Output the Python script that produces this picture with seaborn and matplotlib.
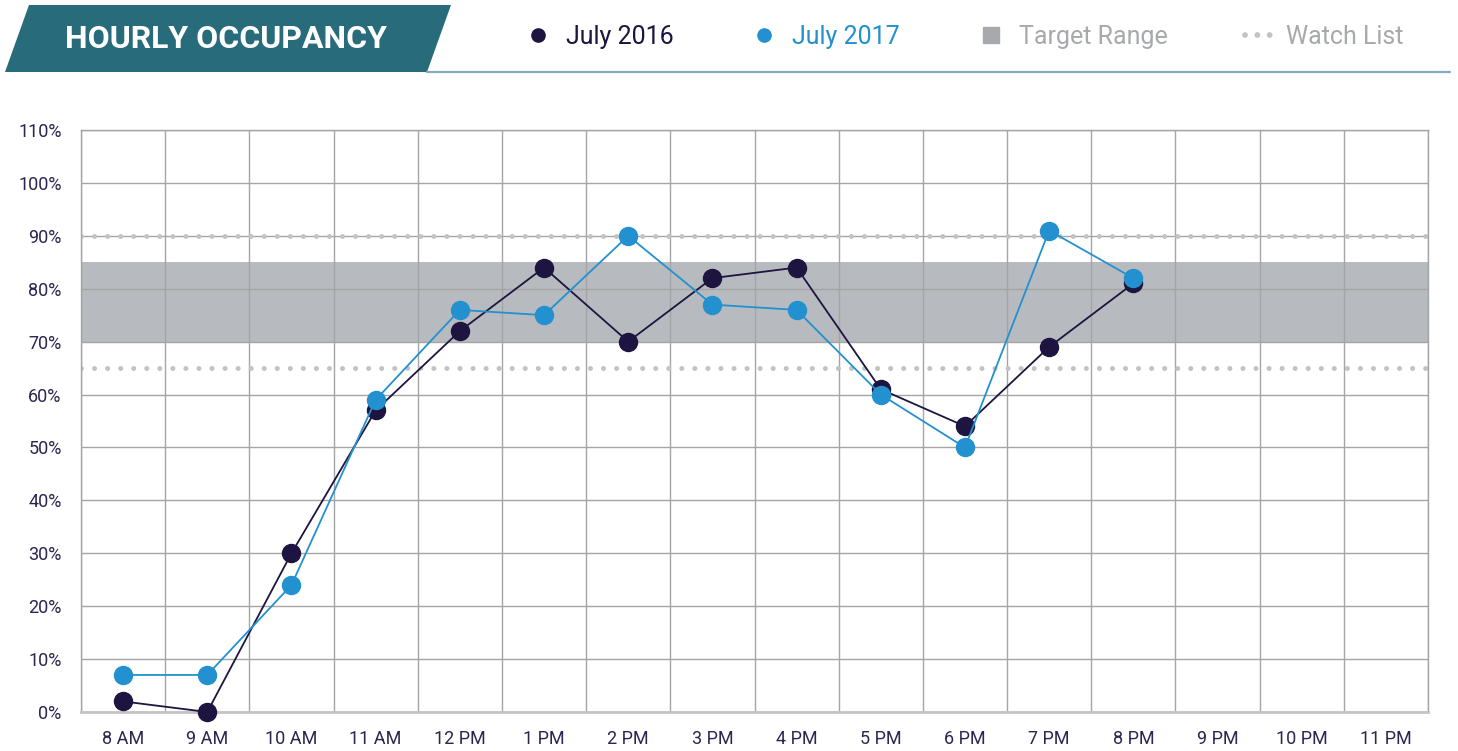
import numpy as np
import pandas as pd
import matplotlib
matplotlib.use("Agg")
import matplotlib.pyplot as plt
from matplotlib.lines import Line2D
from matplotlib.patches import Polygon
import seaborn as sns

# --- data ---
hours = ["8 AM", "9 AM", "10 AM", "11 AM", "12 PM", "1 PM", "2 PM", "3 PM",
         "4 PM", "5 PM", "6 PM", "7 PM", "8 PM", "9 PM", "10 PM", "11 PM"]
occ_2016 = [2, 0, 30, 57, 72, 84, 70, 82, 84, 61, 54, 69, 81, np.nan, np.nan, np.nan]
occ_2017 = [7, 7, 24, 59, 76, 75, 90, 77, 76, 60, 50, 91, 82, np.nan, np.nan, np.nan]
series = ["July 2016", "July 2017"]
target_range = (70, 85)
watch_levels = [65, 90]
y_ticks = list(range(0, 111, 10))

NAVY = "#1d1440"
BLUE = "#2391cf"
TEAL = "#286b7a"
BAND = "#b7babe"
DOTS = "#c2c3c7"
GRID = "#a5a5a5"
LEGEND_GREY = "#a7a9ac"

df = pd.DataFrame({
    "hour": hours * 2,
    "occupancy": occ_2016 + occ_2017,
    "series": [series[0]] * len(hours) + [series[1]] * len(hours),
})

sns.set_style("white")
plt.rcParams["font.family"] = ["Roboto", "DejaVu Sans"]

fig = plt.figure(figsize=(14.58, 7.51), dpi=100)
ax = fig.add_axes([81 / 1458, 39 / 751, 1347 / 1458, 582 / 751])

# target band + watch list lines
ax.axhspan(*target_range, color=BAND, zorder=0.1, lw=0)
for lvl in watch_levels:
    ax.axhline(lvl, color=DOTS, lw=3.6, ls=(0, (0.01, 2.6)),
               dash_capstyle="round", zorder=1)

sns.pointplot(data=df, x="hour", y="occupancy", hue="series", order=hours,
              hue_order=series, palette=[NAVY, BLUE], errorbar=None,
              markersize=13, linewidth=1.3, ax=ax, legend=False)
for ln in ax.lines[len(watch_levels):]:
    ln.set_clip_on(False)
    ln.set_zorder(3)

ax.set_xlim(-0.5, len(hours) - 0.5)
ax.set_ylim(0, 110)
ax.set_yticks(y_ticks)
ax.set_yticklabels([f"{t}%" for t in y_ticks])
ax.set_xticks(np.arange(-0.5, len(hours), 1), minor=True)
ax.set_axisbelow(True)
ax.grid(which="minor", axis="x", color=GRID, lw=1)
ax.grid(which="major", axis="y", color=GRID, lw=1)
ax.grid(which="major", axis="x", visible=False)
ax.tick_params(which="both", length=0)
ax.tick_params(axis="y", pad=14, labelsize=13, labelcolor="#2b2550")
ax.tick_params(axis="x", pad=13, labelsize=13, labelcolor="#2b2550")
ax.set_xlabel("")
ax.set_ylabel("")
for side in ax.spines.values():
    side.set_color(GRID)
    side.set_linewidth(1)
ax.spines["bottom"].set_color("#c4c4c4")
ax.spines["bottom"].set_linewidth(2)

# header banner
W, H = 1458, 751
banner = Polygon([(5 / W, 1 - 72 / H), (29 / W, 1 - 5 / H),
                  (451 / W, 1 - 5 / H), (427 / W, 1 - 72 / H)],
                 closed=True, transform=fig.transFigure, color=TEAL, lw=0)
fig.patches.append(banner)
fig.add_artist(Line2D([427 / W, 1450 / W], [1 - 72 / H, 1 - 72 / H],
                      transform=fig.transFigure, color="#7fadbb", lw=1.6))
fig.text(226 / W, 1 - 39 / H, "HOURLY OCCUPANCY", color="white",
         fontsize=23, fontweight="bold", ha="center", va="center")

# legend in the header
handles = [
    Line2D([], [], marker="o", ls="", color=NAVY, markersize=9.5),
    Line2D([], [], marker="o", ls="", color=BLUE, markersize=9.5),
    Line2D([], [], marker="s", ls="", color=LEGEND_GREY, markersize=12),
    Line2D([], [], ls=(0, (0.01, 2.1)), color=DOTS, lw=4.2,
           dash_capstyle="round"),
]
labels = ["July 2016", "July 2017", "Target Range", "Watch List"]
leg = fig.legend(handles, labels, loc="center", ncol=4, frameon=False,
                 bbox_to_anchor=(964 / W, 1 - 37 / H), fontsize=18,
                 handlelength=1.05, handletextpad=0.6, columnspacing=3.1,
                 labelcolor=[NAVY, BLUE, LEGEND_GREY, LEGEND_GREY])

fig.savefig("out.png", dpi=100)
